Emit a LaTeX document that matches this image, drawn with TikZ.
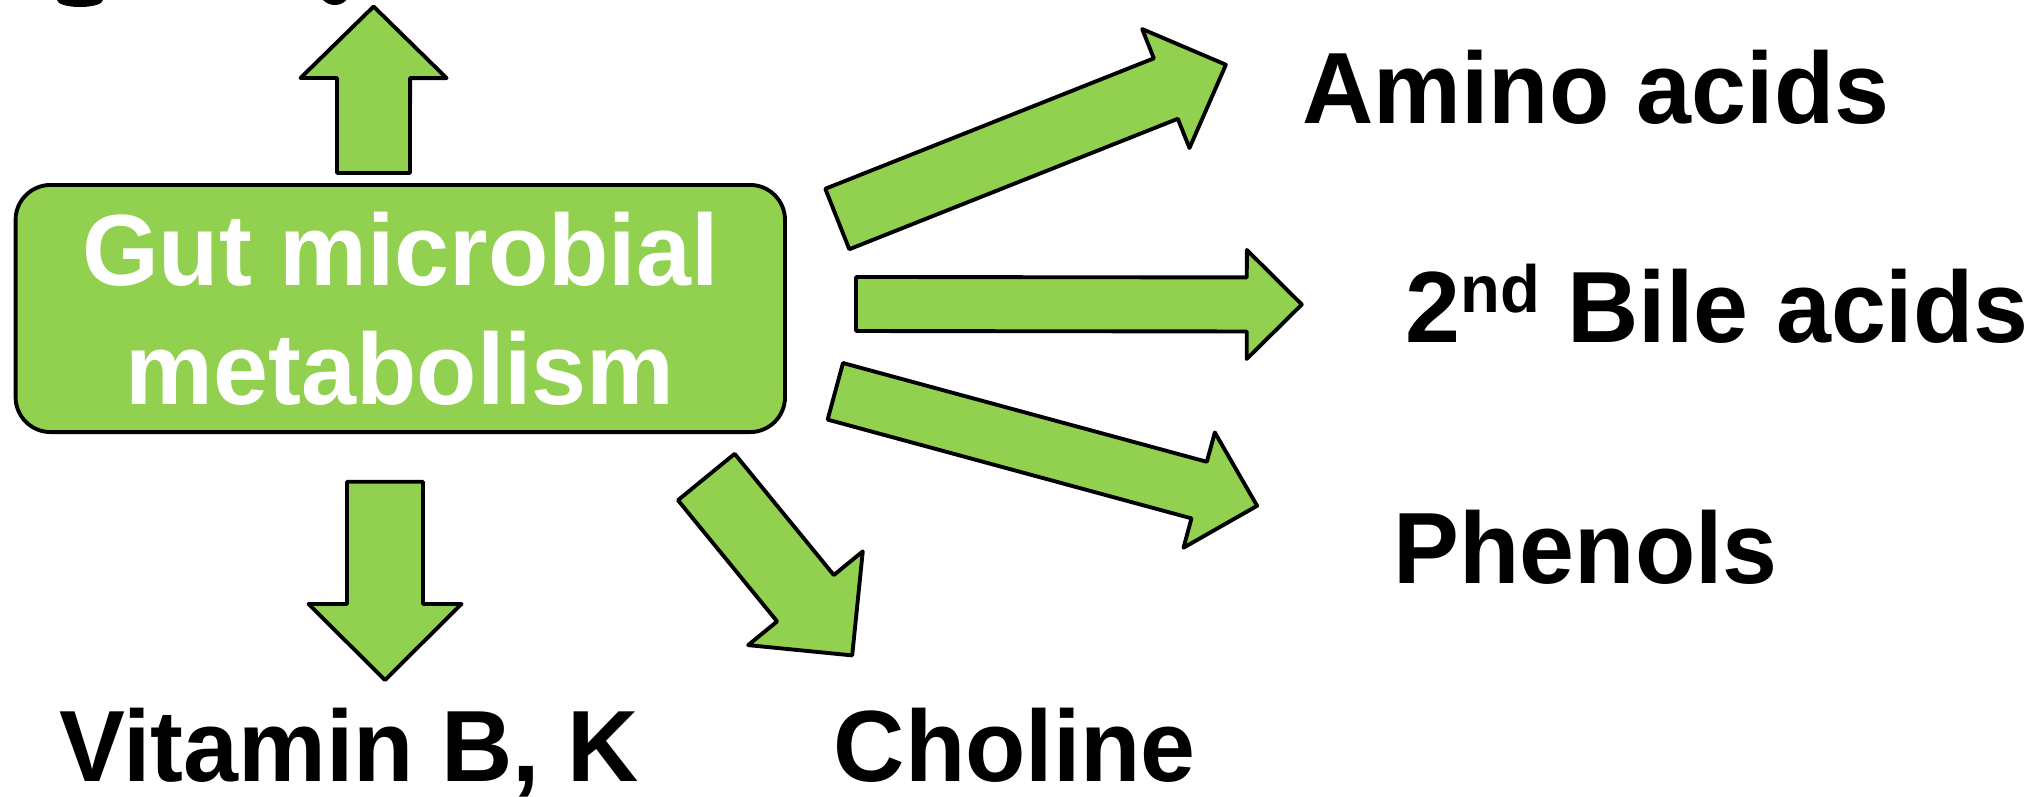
\documentclass[tikz,border=0pt]{standalone}
\usepackage{fontspec}
\setmainfont{Liberation Sans}
\newfontfamily\labfont[FakeStretch=0.975]{Liberation Sans}
\usetikzlibrary{calc}

\definecolor{microgreen}{RGB}{146,208,80}

% 太い矢印: 始点, 終点, 軸の半幅, 矢じりの半幅, 矢じりの長さ
\newcommand{\fatarrow}[5]{%
    \path ($(#2)!#5!(#1)$) coordinate (hb);
    \draw[blockarrow] ($(#1)!#3!90:(#2)$) -- ($(hb)!#3!90:(#2)$)
        -- ($(hb)!#4!90:(#2)$) -- (#2) -- ($(hb)!#4!-90:(#2)$)
        -- ($(hb)!#3!-90:(#2)$) -- ($(#1)!#3!-90:(#2)$) -- cycle;
}

\begin{document}
\begin{tikzpicture}[x=0.01cm, y=-0.01cm,
    blockarrow/.style={draw=black, line width=1.1pt, line join=round, fill=microgreen},
    lbl/.style={anchor=base west, inner sep=0pt, font=\labfont\bfseries\fontsize{28.8}{34}\selectfont}]

    \useasboundingbox (0,0) rectangle (2041,796);

    % 上で切れた文字
    \begin{scope}
        \clip (0,0) rectangle (2041,20);
        \fill (80,0) ellipse (23 and 7);
        \fill (323,0) .. controls (330,7) and (342,7) .. (348,-2) -- (340,-4) .. controls (336,1) and (331,1) .. (326,-3) -- cycle;
    \end{scope}

    % 中央の箱
    \node[draw=black, line width=1.1pt, fill=microgreen, rounded corners=0.35cm,
          minimum width=7.69cm, minimum height=2.47cm, align=center, text=white,
          font=\labfont\bfseries\fontsize{28.8}{33.9}\selectfont]
        (gut) at (400.3,308.5) {Gut microbial\\metabolism};

    % ラベル
    \node[lbl] (amino) at (1301.7,123.7) {Amino acids};
    \node[lbl] (bile) at (1405,342.5) {2\raisebox{0.3cm}{\fontsize{19}{19}\selectfont nd} Bile acids};
    \node[lbl] (phenol) at (1393,583) {Phenols};
    \node[lbl] (vit) at (58.6,781) {Vitamin B, K};
    \node[lbl] (chol) at (833,781) {Choline};

    % 矢印の端点
    \coordinate (up-s) at (373.5,173);   \coordinate (up-e) at (373.6,6.5);
    \coordinate (vit-s) at (385,481.7);  \coordinate (vit-e) at (385,680);
    \coordinate (amino-s) at (837.3,219); \coordinate (amino-e) at (1225.9,64.7);
    \coordinate (bile-s) at (856,304);   \coordinate (bile-e) at (1301.8,304.5);
    \coordinate (phenol-s) at (835.3,391.3); \coordinate (phenol-e) at (1257.1,505.8);
    \coordinate (chol-s) at (706.3,477); \coordinate (chol-e) at (852.2,655.4);

    % 矢印
    \fatarrow{up-s}{up-e}{0.365cm}{0.73cm}{0.715cm}
    \fatarrow{vit-s}{vit-e}{0.38cm}{0.765cm}{0.76cm}
    \fatarrow{amino-s}{amino-e}{0.325cm}{0.64cm}{0.646cm}
    \fatarrow{bile-s}{bile-e}{0.27cm}{0.545cm}{0.55cm}
    \fatarrow{phenol-s}{phenol-e}{0.293cm}{0.597cm}{0.6cm}
    \fatarrow{chol-s}{chol-e}{0.366cm}{0.74cm}{0.738cm}

\end{tikzpicture}
\end{document}
